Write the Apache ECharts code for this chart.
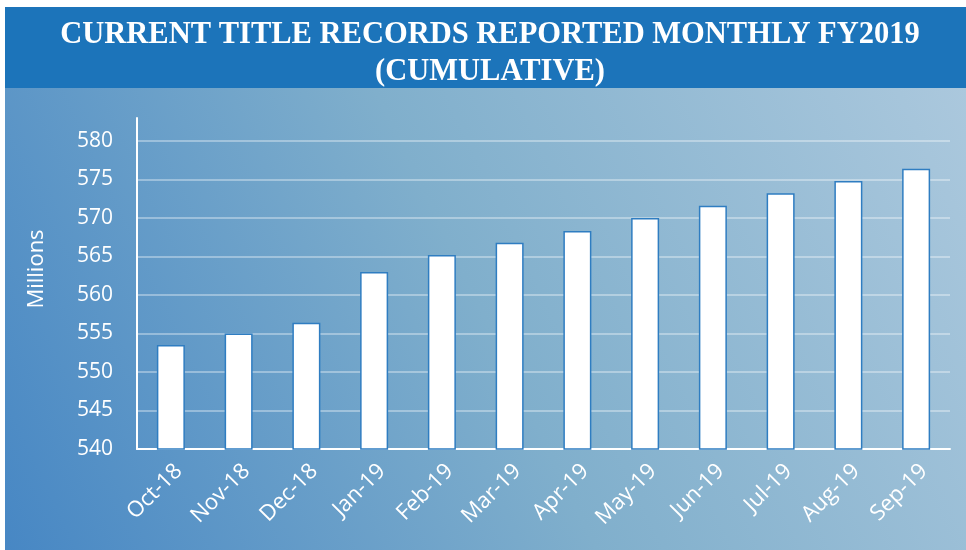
<!DOCTYPE html>
<html>
<head>
<meta charset="utf-8">
<script src="https://cdn.jsdelivr.net/npm/echarts@6/dist/echarts.min.js"></script>
<style>
html, body { margin: 0; padding: 0; background: #fff; }
#chart1 { width: 966px; height: 550px; }
</style>
</head>
<body>
<div id="chart1"></div>
<script>
var months = ['Oct-18', 'Nov-18', 'Dec-18', 'Jan-19', 'Feb-19', 'Mar-19',
              'Apr-19', 'May-19', 'Jun-19', 'Jul-19', 'Aug-19', 'Sep-19'];
var records = [553.5, 555.0, 556.4, 563.0, 565.2, 566.8,
               568.3, 570.0, 571.6, 573.2, 574.8, 576.4];
var titleText = 'CURRENT TITLE RECORDS REPORTED MONTHLY FY2019\n(CUMULATIVE)';

var myChart = echarts.init(document.getElementById('chart1'));

myChart.setOption({
    backgroundColor: '#fff',
    title: {
        text: titleText,
        left: 485,
        top: 12,
        textAlign: 'center',
        textStyle: {
            color: '#fff',
            fontFamily: 'Liberation Serif',
            fontWeight: 'bold',
            fontSize: 30.5,
            lineHeight: 37
        }
    },
    graphic: [
        {
            type: 'rect', z: -10,
            shape: { x: 5, y: 88, width: 961, height: 462 },
            style: {
                fill: new echarts.graphic.LinearGradient(0, 1, 1, 0, [
                    { offset: 0, color: '#4787c4' },
                    { offset: 0.5, color: '#80afcc' },
                    { offset: 1, color: '#abc8dd' }
                ])
            }
        },
        {
            type: 'rect', z: -10,
            shape: { x: 5, y: 7, width: 961, height: 81 },
            style: { fill: '#1c74ba' }
        },
        {
            type: 'text',
            x: 37, y: 269,
            rotation: Math.PI / 2,
            style: {
                text: 'Millions',
                fill: '#fff',
                font: '22px "Open Sans"',
                align: 'center',
                verticalAlign: 'middle'
            }
        }
    ],
    grid: [
        { left: 137, right: 16, top: 141, bottom: 101 },
        { left: 137, right: 16, top: 118, bottom: 101 }
    ],
    xAxis: [
        {
            type: 'category',
            data: months,
            gridIndex: 0,
            axisLine: { lineStyle: { color: '#fff', width: 2 } },
            axisTick: { show: false },
            axisLabel: {
                color: '#fff',
                fontFamily: 'Open Sans',
                fontSize: 22,
                rotate: 45,
                margin: 11,
                verticalAlign: 'top',
                interval: 0
            }
        },
        { type: 'category', gridIndex: 1, show: false, data: months }
    ],
    yAxis: [
        {
            type: 'value',
            gridIndex: 0,
            min: 540,
            max: 580,
            interval: 5,
            axisLine: { show: false },
            axisTick: { show: false },
            axisLabel: { color: '#fff', fontFamily: 'Open Sans', fontSize: 21, margin: 24 },
            splitLine: { lineStyle: { color: 'rgba(255,255,255,0.35)', width: 2 } }
        },
        {
            type: 'value',
            gridIndex: 1,
            axisLine: { show: true, lineStyle: { color: '#fff', width: 2 } },
            axisTick: { show: false },
            axisLabel: { show: false },
            splitLine: { show: false }
        }
    ],
    series: [
        {
            name: 'Current title records',
            type: 'bar',
            barWidth: 28,
            data: records,
            itemStyle: {
                color: '#fff',
                borderColor: '#2f7dc1',
                borderWidth: 1.5
            }
        }
    ]
});
</script>
</body>
</html>
